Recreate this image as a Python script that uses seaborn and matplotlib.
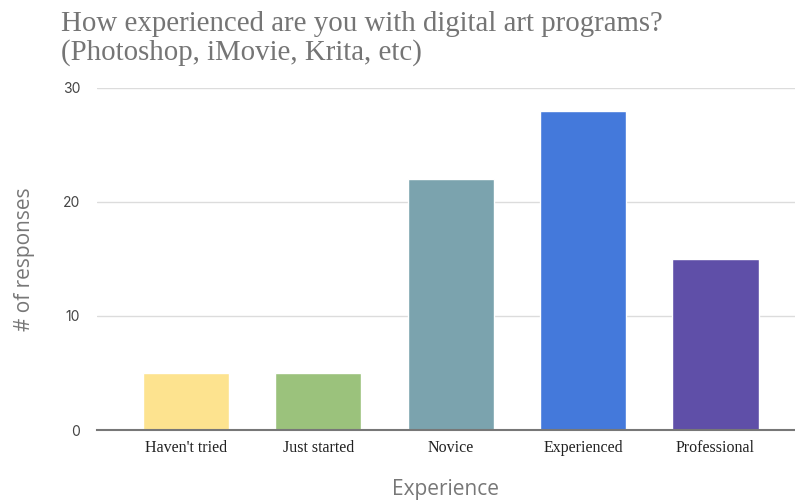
import matplotlib
matplotlib.use("Agg")
import matplotlib.pyplot as plt
import seaborn as sns
import pandas as pd

categories = ["Haven't tried", "Just started", "Novice", "Experienced", "Professional"]
responses = [5, 5, 22, 28, 15]
colors = ["#fde38f", "#9bc27c", "#7ba3ae", "#4479db", "#5f4fa8"]
y_ticks = [0, 10, 20, 30]

sns.set_theme(style="white")
plt.rcParams['font.family'] = ['DejaVu Sans']

df = pd.DataFrame({"Experience": categories, "responses": responses})

fig = plt.figure(figsize=(7.95, 5.01), dpi=100)
ax = fig.add_axes([0.122, 0.1417, 0.878, 0.6827])

sns.barplot(data=df, x="Experience", y="responses", hue="Experience",
            palette=colors, width=0.65, ax=ax, legend=False, saturation=1)

ax.set_xlim(-0.67, 4.6)
ax.set_ylim(0, 30)
ax.set_yticks(y_ticks)
ax.yaxis.grid(True, color="#dcdcdc", linewidth=1)
ax.set_axisbelow(True)
for s in ["top", "right", "left"]:
    ax.spines[s].set_visible(False)
ax.spines["bottom"].set_color("#777777")
ax.spines["bottom"].set_linewidth(1.5)
ax.spines["bottom"].set_zorder(5)
ax.tick_params(axis="both", length=0)
ax.tick_params(axis="y", pad=12)
ax.tick_params(axis="x", pad=7)
for lbl in ax.get_yticklabels():
    lbl.set_fontfamily("Inter")
    lbl.set_fontsize(10)
    lbl.set_color("#444444")
for lbl in ax.get_xticklabels():
    lbl.set_fontfamily("Liberation Serif")
    lbl.set_fontsize(11.5)
    lbl.set_color("#222222")

ax.set_xlabel("Experience", fontfamily="Open Sans", fontsize=15, color="#777777", labelpad=16.5)
ax.set_ylabel("# of responses", fontfamily="Open Sans", fontsize=15, color="#777777", labelpad=20)

fig.text(0.077, 0.978, "How experienced are you with digital art programs?\n(Photoshop, iMovie, Krita, etc)",
         ha="left", va="top", fontfamily="Liberation Serif", fontsize=20.8, color="#757575",
         linespacing=1.12)

fig.savefig("out.png", dpi=100)
